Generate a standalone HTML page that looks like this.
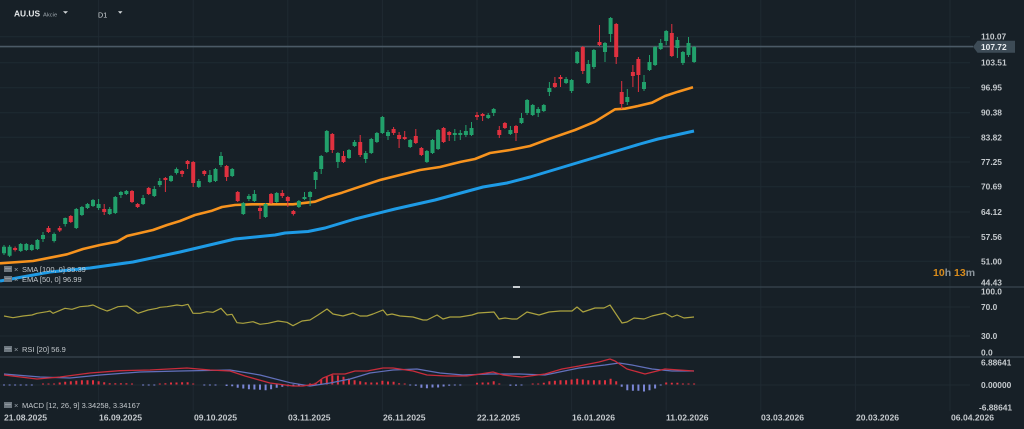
<!DOCTYPE html>
<html><head><meta charset="utf-8"><style>
html,body{margin:0;padding:0;background:#172027;overflow:hidden;}
svg{display:block;}
text{font-family:"Liberation Sans",Arial,sans-serif;}
</style></head><body>
<svg width="1024" height="429" viewBox="0 0 1024 429" xmlns="http://www.w3.org/2000/svg">
<rect width="1024" height="429" fill="#172027"/>
<!-- vertical grid -->
<g stroke="#1f2a32" stroke-width="1">
<path d="M98.6 0V411M193.2 0V411M287.8 0V411M382.4 0V411M477 0V411M571.6 0V411M666.2 0V411M760.8 0V411M855.4 0V411M950 0V411"/>
<path d="M0 36.7H970M0 62.7H970M0 87.7H970M0 112.7H970M0 137.3H970M0 162H970M0 186.7H970M0 212H970M0 237H970M0 261.3H970M0 307H970M0 336H970M0 385H970"/>
</g>
<!-- pane separators -->
<g stroke="#38454f" stroke-width="1.2">
<path d="M0 287H1024M0 357H1024"/>
</g>
<rect x="513" y="286" width="7" height="2" fill="#c9ced2"/>
<rect x="513" y="356" width="7" height="2" fill="#c9ced2"/>
<!-- current price line -->
<path d="M0 46.6H973" stroke="#4b5a66" stroke-width="1.6"/>
<!-- SMA 100 blue -->
<polyline fill="none" stroke="#1e9be6" stroke-width="3" stroke-linejoin="round" points="0,281 50,272 90,268 133,262 180,252 235,239 275,235 285,233 308,231.5 325,228 355,219 395,209 435,200 483,187 507,183 530,177 560,168 600,156 620,150 640,144 658,139 694,131"/>
<!-- EMA 50 orange -->
<polyline fill="none" stroke="#f7931e" stroke-width="2.6" stroke-linejoin="round" points="0,263.3 33,261 50,257.7 67,254.3 83,249 100,245 117,241.7 127,236 140,233 153,230 167,225 180,221 195,215 212,210.7 222,207 235,205 252,204.3 275,204.3 293,204.3 315,201.7 328,196.7 342,192.7 355,188.3 380,180 400,175 420,170 440,167 460,162 475,159 490,153 510,150 530,146 548,139.3 575,130 595,121.7 615,109.3 625,108.7 638,106 652,102.7 665,96 678,91.7 693,87.3"/>
<!-- candles green -->
<path fill="none" stroke="#22a06b" stroke-width="1" d="M4 245V255M9.6 245V257M20.7 243V252M26.3 243V251M31.8 244V251M37.4 239V250M43 232V242M54.1 232.5V242.5M65.2 217.5V226.5M76.3 208V229M81.9 206V216M87.5 203V209M93 199V207M98.6 199V210M109.7 207V215M115.3 196V214M120.9 191V198M126.4 190V195M143.1 195V205M154.3 186V197M159.8 178V187M171 175V182M176.5 167.5V174.5M198.8 179V188M209.9 170V183M215.5 168V182M221 152V167M232.2 168V177M243.3 202V215M248.9 194V201M254.4 190V202M265.6 203V218M276.7 192V203M298.9 200V208M304.5 192V200M310.1 191V206M315.6 171V189M321.2 155V174M326.8 130V153M337.9 152V168M349 149V159M354.6 140V147M365.7 151V163M371.3 138V154M376.9 132V143M382.4 116V134M388 130V140M410.2 139V148M426.9 150V163M432.5 139V154M438.1 129V150M454.8 129V141M460.3 130V140M465.9 125V137M471.5 122V136M488.2 113V119M493.7 108V116M510.4 126V135M521.5 113V124M527.1 99V115M532.7 104V116M538.2 107V117M543.8 104V112M549.4 82V96M566.1 77V84M571.6 79V93M577.2 51V64M588.3 60V84M593.9 49V69M605 42V62M610.6 17V42M627.3 89V105M644 75V91M649.5 55V71M655.1 46V66M660.7 39V50M666.2 30V45M677.4 37V58M682.9 51V65M688.5 37V57M694.1 46V63"/>
<path fill="#22a06b" d="M2 246.7h4V253.3h-4zM7.6 246.7h4V255.7h-4zM18.7 244h4V251h-4zM24.3 244h4V250h-4zM29.8 245h4V250h-4zM35.4 240h4V249h-4zM41 235h4V239h-4zM52.1 234h4V241h-4zM63.2 218h4V224h-4zM74.3 209h4V228h-4zM79.9 207h4V215h-4zM85.5 204h4V208h-4zM91 200h4V206h-4zM96.6 204h4V208h-4zM107.7 209h4V214h-4zM113.3 197h4V213h-4zM118.9 192h4V195h-4zM124.4 191h4V194h-4zM141.1 198h4V204h-4zM152.3 189h4V196h-4zM157.8 181h4V185h-4zM169 176h4V181h-4zM174.5 169h4V173h-4zM196.8 181h4V187h-4zM207.9 175h4V182h-4zM213.5 169h4V181h-4zM219 156h4V165h-4zM230.2 169h4V176h-4zM241.3 203h4V214h-4zM246.9 196h4V199h-4zM252.4 194h4V201h-4zM263.6 204h4V217h-4zM274.7 193h4V202h-4zM296.9 201h4V207h-4zM302.5 197h4V199h-4zM308.1 192h4V197h-4zM313.6 172h4V180h-4zM319.2 156h4V169h-4zM324.8 131h4V152h-4zM335.9 153h4V162h-4zM347 150h4V158h-4zM352.6 142h4V146h-4zM363.7 153h4V159h-4zM369.3 139h4V153h-4zM374.9 133h4V142h-4zM380.4 117h4V133h-4zM386 132h4V136h-4zM408.2 140h4V147h-4zM424.9 151h4V162h-4zM430.5 140h4V153h-4zM436.1 130h4V149h-4zM452.8 133h4V135h-4zM458.3 133h4V135h-4zM463.9 131h4V135h-4zM469.5 128h4V135h-4zM486.2 115h4V118h-4zM491.7 109h4V113h-4zM508.4 130h4V134h-4zM519.5 118h4V123h-4zM525.1 100h4V113h-4zM530.7 105h4V115h-4zM536.2 109h4V113h-4zM541.8 105h4V111h-4zM547.4 88h4V92h-4zM564.1 79h4V83h-4zM569.6 80h4V91h-4zM575.2 52h4V63h-4zM586.3 64h4V83h-4zM591.9 50h4V67h-4zM603 43h4V52h-4zM608.6 18h4V34h-4zM625.3 97h4V102h-4zM642 82h4V89h-4zM647.5 62h4V70h-4zM653.1 47h4V65h-4zM658.7 43h4V49h-4zM664.2 31h4V41h-4zM675.4 40h4V48h-4zM680.9 52h4V63h-4zM686.5 43h4V55h-4zM692.1 47h4V62h-4z"/>
<!-- candles red -->
<path fill="none" stroke="#e0313f" stroke-width="1" d="M15.1 246.5V251.5M48.5 226V233M59.7 226V232M70.8 215V223M104.2 204V215M132 190V203M137.6 203V208M148.7 187V195M165.4 177V192M182.1 170V177M187.6 160V169M193.2 161V187M204.3 170V176M226.6 165V181M237.7 191V202M260 205V219M271.1 193V204M282.3 190V198M287.8 196V207M293.4 210V215.5M332.3 133V153M343.5 151V163M360.2 135V157M393.6 127V135M399.1 132V148M404.7 131V140M415.8 129V144M421.4 147V156M443.6 127V143M449.2 131V141M477 112V120M482.6 113V121M499.3 126V138M504.9 122V129M516 125V141M554.9 77V88M560.5 75V87M582.8 46V74M599.5 25V46M616.2 23V64M621.7 81V109M632.9 65V87M638.4 57V92M671.8 24V57"/>
<path fill="#e0313f" d="M13.1 248h4V250h-4zM46.5 228h4V232h-4zM57.7 228h4V230.5h-4zM68.8 216h4V222h-4zM102.2 209h4V212h-4zM130 191h4V202h-4zM135.6 204h4V207h-4zM146.7 188h4V194h-4zM163.4 178h4V180h-4zM180.1 171h4V174h-4zM185.6 161h4V164h-4zM191.2 162h4V183h-4zM202.3 171h4V174h-4zM224.6 166h4V177h-4zM235.7 192h4V201h-4zM258 208h4V211h-4zM269.1 194h4V203h-4zM280.3 193h4V196h-4zM285.8 197h4V201h-4zM291.4 211h4V214h-4zM330.3 134h4V150h-4zM341.5 156h4V162h-4zM358.2 142h4V155h-4zM391.6 129h4V133h-4zM397.1 135h4V139h-4zM402.7 137h4V139h-4zM413.8 136h4V143h-4zM419.4 148h4V155h-4zM441.6 128h4V142h-4zM447.2 132h4V135h-4zM475 115h4V117h-4zM480.6 114h4V116h-4zM497.3 130h4V135h-4zM502.9 123h4V128h-4zM514 126h4V133h-4zM552.9 83h4V87h-4zM558.5 77h4V79h-4zM580.8 47h4V71h-4zM597.5 42h4V45h-4zM614.2 24h4V57h-4zM619.7 92h4V104h-4zM630.9 72h4V76h-4zM636.4 59h4V75h-4zM669.8 33h4V56h-4z"/>
<!-- price tag -->
<polygon points="973,46.7 977.5,40.7 1015,40.7 1015,52.7 977.5,52.7" fill="#3d4b56"/>
<!-- price axis -->
<g font-size="8.4" font-weight="bold" fill="#c4c9cd">
<text x="981" y="39.7">110.07</text>
<text x="981" y="49.8" fill="#e9edf0">107.72</text>
<text x="981" y="65.7">103.51</text>
<text x="981" y="90.7">96.95</text>
<text x="981" y="115.7">90.38</text>
<text x="981" y="140.3">83.82</text>
<text x="981" y="165">77.25</text>
<text x="981" y="189.7">70.69</text>
<text x="981" y="215">64.12</text>
<text x="981" y="240">57.56</text>
<text x="981" y="264.3">51.00</text>
<text x="981" y="285.7">44.43</text>
<text x="981" y="294.5">100.0</text>
<text x="981" y="310">70.0</text>
<text x="981" y="339">30.0</text>
<text x="981" y="355.5">0.0</text>
<text x="981" y="365.6">6.88641</text>
<text x="981" y="388">0.00000</text>
<text x="979" y="410.7">-6.88641</text>
</g>
<text x="933" y="276" font-size="10.5" font-weight="bold" fill="#8b949b"><tspan fill="#d98c1c">10</tspan>h <tspan fill="#d98c1c">13</tspan>m</text>
<!-- legends MA -->
<g fill="#6d777f">
<rect x="4" y="266" width="8" height="6"/>
<rect x="4" y="276" width="8" height="6"/>
<rect x="4" y="346" width="8" height="6"/>
<rect x="4" y="402" width="8" height="6"/>
</g>
<g stroke="#9aa3aa" stroke-width="0.8">
<path d="M5 268.5H11M5 278.5H11M5 348.5H11M5 404.5H11"/>
</g>
<g font-size="7.5" fill="#c4c9cd">
<text x="14" y="272" fill="#9aa3aa">×</text>
<text x="22" y="272">SMA [100,  0] 85.39</text>
<text x="14" y="282" fill="#9aa3aa">×</text>
<text x="22" y="282">EMA [50,  0] 96.99</text>
<text x="14" y="352" fill="#9aa3aa">×</text>
<text x="22" y="352">RSI [20]  56.9</text>
<text x="14" y="408" fill="#9aa3aa">×</text>
<text x="22" y="408">MACD [12,  26,  9] 3.34258,  3.34167</text>
</g>
<!-- RSI -->
<polyline fill="none" stroke="#aba23f" stroke-width="1.2" stroke-linejoin="round" points="4,316 13,317.7 23,316 32,315 37,313.3 47,311.7 50,311 53,313.3 65,308.3 72,309.3 80,306.7 88,306 93,305 100,308.3 107,311 110,310 118,306.7 127,306 133,310 138,313.3 148,310 157,308.3 160,307.3 167,306.7 177,305 182,305.7 188,304.3 193,313.3 200,313.3 207,311.7 213,312.3 221,308.3 227,315 232,314.3 237,322.7 243,323.3 253,321.7 260,324.3 268,323.3 278,321 287,322.3 293,325.7 302,321 310,320 318,315 327,309 333,314 343,316 353,313 360,316 367,316 373,314 383,310 387,315 392,314 400,316 413,317 423,320 427,320 437,315 443,319 450,317 460,317 472,315 478,313 494,312 499,319 505,318 512,319 517,319 527,312 539,315 549,312 560,311 572,311 577,307 583,312 595,308 604,308 610,305 622,323 627,322 634,318 644,319 652,316 665,313 672,317 677,315 684,318 694,317"/>
<!-- MACD histogram -->
<path fill="#e0313f" d="M42 384.5h2v-1h-2zM47.5 384.5h2v-1h-2zM53.1 384.5h2v-1h-2zM58.7 384.5h2v-2h-2zM64.2 384.5h2v-2.7h-2zM69.8 384.5h2v-3.3h-2zM75.3 384.5h2v-3.7h-2zM80.9 384.5h2v-4.3h-2zM86.5 384.5h2v-4.3h-2zM92 384.5h2v-4.3h-2zM97.6 384.5h2v-3.3h-2zM103.2 384.5h2v-2.3h-2zM108.7 384.5h2v-1.3h-2zM114.3 384.5h2v-1.3h-2zM119.9 384.5h2v-1.3h-2zM125.4 384.5h2v-1.3h-2zM131 384.5h2v-1h-2zM158.8 384.5h2v-1h-2zM164.4 384.5h2v-1.3h-2zM170 384.5h2v-2h-2zM175.5 384.5h2v-2h-2zM181.1 384.5h2v-2.3h-2zM186.6 384.5h2v-2.3h-2zM192.2 384.5h2v-1h-2zM309.1 384.5h2v-1h-2zM314.6 384.5h2v-1.7h-2zM320.2 384.5h2v-5.3h-2zM325.8 384.5h2v-7.7h-2zM331.3 384.5h2v-9.3h-2zM336.9 384.5h2v-9h-2zM342.5 384.5h2v-7.7h-2zM348 384.5h2v-6h-2zM353.6 384.5h2v-4.3h-2zM359.2 384.5h2v-3.3h-2zM364.7 384.5h2v-2.3h-2zM370.3 384.5h2v-2h-2zM375.9 384.5h2v-2h-2zM381.4 384.5h2v-3.7h-2zM387 384.5h2v-3h-2zM392.6 384.5h2v-2.7h-2zM398.1 384.5h2v-1.3h-2zM403.7 384.5h2v-1h-2zM476 384.5h2v-1.7h-2zM481.6 384.5h2v-2h-2zM487.2 384.5h2v-2h-2zM492.7 384.5h2v-3.3h-2zM498.3 384.5h2v-1h-2zM531.7 384.5h2v-1h-2zM537.2 384.5h2v-1h-2zM542.8 384.5h2v-1.7h-2zM548.4 384.5h2v-3.3h-2zM553.9 384.5h2v-3.7h-2zM559.5 384.5h2v-4.3h-2zM565.1 384.5h2v-4.3h-2zM570.6 384.5h2v-5h-2zM576.2 384.5h2v-5.7h-2zM581.8 384.5h2v-5h-2zM587.3 384.5h2v-4.3h-2zM592.9 384.5h2v-4.3h-2zM598.5 384.5h2v-4.3h-2zM604 384.5h2v-4.3h-2zM609.6 384.5h2v-5.7h-2zM615.2 384.5h2v-3.3h-2zM665.2 384.5h2v-2h-2zM670.8 384.5h2v-1.7h-2zM676.4 384.5h2v-1.7h-2zM681.9 384.5h2v-1h-2zM687.5 384.5h2v-1h-2zM693.1 384.5h2v-1h-2z"/>
<path fill="#7b86d6" d="M3 384.5h2v1h-2zM8.6 384.5h2v1h-2zM14.1 384.5h2v1h-2zM19.7 384.5h2v1h-2zM25.3 384.5h2v1h-2zM30.8 384.5h2v1h-2zM142.1 384.5h2v1h-2zM147.7 384.5h2v1h-2zM153.3 384.5h2v1h-2zM203.3 384.5h2v1h-2zM208.9 384.5h2v1h-2zM214.5 384.5h2v1h-2zM225.6 384.5h2v1.5h-2zM231.2 384.5h2v1.7h-2zM236.7 384.5h2v3.3h-2zM242.3 384.5h2v4h-2zM247.9 384.5h2v4.7h-2zM253.4 384.5h2v5h-2zM259 384.5h2v5.3h-2zM264.6 384.5h2v5.7h-2zM270.1 384.5h2v4.7h-2zM275.7 384.5h2v3.3h-2zM281.3 384.5h2v2.3h-2zM286.8 384.5h2v1.7h-2zM292.4 384.5h2v1h-2zM297.9 384.5h2v1h-2zM409.2 384.5h2v1h-2zM414.8 384.5h2v1.3h-2zM420.4 384.5h2v3.3h-2zM425.9 384.5h2v3.7h-2zM431.5 384.5h2v3h-2zM437.1 384.5h2v3h-2zM442.6 384.5h2v2h-2zM448.2 384.5h2v1.3h-2zM453.8 384.5h2v1h-2zM459.3 384.5h2v1h-2zM509.4 384.5h2v1.3h-2zM515 384.5h2v1.3h-2zM520.5 384.5h2v1h-2zM620.7 384.5h2v2.3h-2zM626.3 384.5h2v5.7h-2zM631.9 384.5h2v6.3h-2zM637.4 384.5h2v6.3h-2zM643 384.5h2v7h-2zM648.5 384.5h2v5.7h-2zM654.1 384.5h2v4h-2zM659.7 384.5h2v1h-2z"/>
<!-- MACD lines -->
<polyline fill="none" stroke="#6270bb" stroke-width="1.2" stroke-linejoin="round" points="4,374 40,377 70,378 100,375 140,372 180,371 230,370 260,375 290,382.7 310,386 330,383 350,379 370,373 393,370 417,369 440,373 463,375 490,374 520,374 545,375 579,368 605,365 619,363 632,365 652,369 672,371 694,371"/>
<polyline fill="none" stroke="#c92c3b" stroke-width="1.3" stroke-linejoin="round" points="4,375 37,379 60,377 90,373 120,370.7 150,370 187,368 210,370 230,371 245,376 270,383 293,386 303,386 315,384 323,378 333,374 345,374 355,371 367,371 383,368 393,368 413,371 427,375 447,376 467,376 480,374 493,372 503,375 512,376 522,377 545,374 562,369 579,366 599,362 610,359 615,361 627,369 645,374 665,369 694,371"/>
<!-- x axis labels -->
<g font-size="8.6" font-weight="bold" fill="#c4c9cd">
<text x="4" y="420.5">21.08.2025</text>
<text x="99" y="420.5">16.09.2025</text>
<text x="194" y="420.5">09.10.2025</text>
<text x="288" y="420.5">03.11.2025</text>
<text x="383" y="420.5">26.11.2025</text>
<text x="477" y="420.5">22.12.2025</text>
<text x="572" y="420.5">16.01.2026</text>
<text x="666" y="420.5">11.02.2026</text>
<text x="761" y="420.5">03.03.2026</text>
<text x="856" y="420.5">20.03.2026</text>
<text x="951" y="420.5">06.04.2026</text>
</g>
<!-- header -->
<text x="14" y="16.7" font-size="8.4" font-weight="bold" fill="#e6e9eb">AU.US</text>
<text x="43" y="16.5" font-size="5.8" fill="#9aa3aa">Akcie</text>
<polygon points="63,11.3 68,11.3 65.5,13.8" fill="#d5d9dc"/>
<text x="98" y="17.3" font-size="7.2" fill="#d5d9dc">D1</text>
<polygon points="118,11.3 122.5,11.3 120.2,13.8" fill="#d5d9dc"/>
</svg>
</body></html>
